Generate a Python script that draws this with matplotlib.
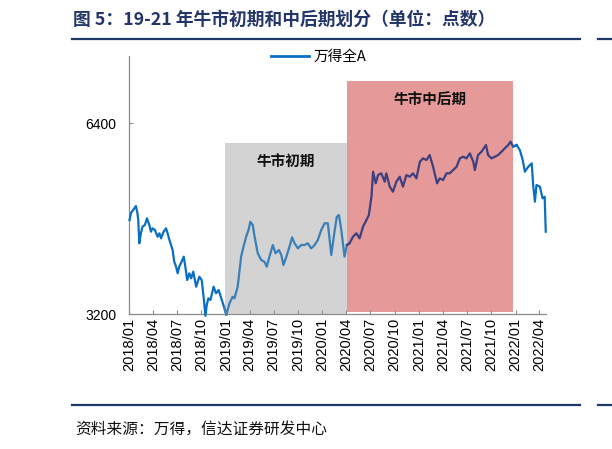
import matplotlib
matplotlib.use("Agg")
import matplotlib.pyplot as plt
import matplotlib.dates as mdates
import numpy as np
import pandas as pd
from matplotlib.lines import Line2D

plt.rcParams['font.family'] = ['Noto Sans CJK SC', 'DejaVu Sans']

# ---- data ----
dates = [
    "2018-01-02", "2018-01-08", "2018-01-20", "2018-01-26", "2018-02-01", "2018-02-04", "2018-02-08",
    "2018-02-14", "2018-02-20", "2018-03-01", "2018-03-09", "2018-03-18", "2018-03-24", "2018-03-30",
    "2018-04-08", "2018-04-18", "2018-04-25", "2018-05-01", "2018-05-11", "2018-05-20", "2018-05-26",
    "2018-06-02", "2018-06-14", "2018-06-20", "2018-06-27", "2018-07-03", "2018-07-09", "2018-07-18",
    "2018-07-26", "2018-08-01", "2018-08-08", "2018-08-16", "2018-08-23", "2018-08-31", "2018-09-11",
    "2018-09-23", "2018-10-02", "2018-10-09", "2018-10-16", "2018-10-21", "2018-10-27", "2018-11-04",
    "2018-11-16", "2018-11-25", "2018-12-05", "2018-12-17", "2018-12-27", "2019-01-03", "2019-01-15",
    "2019-01-27", "2019-02-03", "2019-02-15", "2019-02-28", "2019-03-09", "2019-03-19", "2019-03-28",
    "2019-04-04", "2019-04-13", "2019-04-20", "2019-05-02", "2019-05-15", "2019-05-27", "2019-06-05",
    "2019-06-15", "2019-06-28", "2019-07-08", "2019-07-21", "2019-07-30", "2019-08-07", "2019-08-18",
    "2019-08-30", "2019-09-09", "2019-09-18", "2019-10-01", "2019-10-13", "2019-10-26", "2019-11-07",
    "2019-11-20", "2019-12-03", "2019-12-15", "2019-12-28", "2020-01-10", "2020-01-22", "2020-02-04",
    "2020-02-17", "2020-02-25", "2020-03-04", "2020-03-13", "2020-03-25", "2020-04-03", "2020-04-13",
    "2020-04-26", "2020-05-09", "2020-05-21", "2020-06-03", "2020-06-16", "2020-06-25", "2020-07-05",
    "2020-07-11", "2020-07-21", "2020-07-30", "2020-08-11", "2020-08-24", "2020-08-30", "2020-09-12",
    "2020-09-24", "2020-10-07", "2020-10-20", "2020-11-01", "2020-11-14", "2020-11-27", "2020-12-09",
    "2020-12-22", "2021-01-04", "2021-01-16", "2021-01-29", "2021-02-10", "2021-02-23", "2021-03-10",
    "2021-03-20", "2021-04-02", "2021-04-15", "2021-04-27", "2021-05-10", "2021-05-23", "2021-06-04",
    "2021-06-17", "2021-06-29", "2021-07-12", "2021-07-25", "2021-07-31", "2021-08-12", "2021-08-25",
    "2021-09-11", "2021-09-19", "2021-10-02", "2021-10-15", "2021-10-27", "2021-11-09", "2021-11-21",
    "2021-12-04", "2021-12-13", "2021-12-23", "2022-01-05", "2022-01-17", "2022-01-28", "2022-02-05",
    "2022-02-18", "2022-03-03", "2022-03-09", "2022-03-15", "2022-03-21", "2022-04-03", "2022-04-13",
    "2022-04-21", "2022-04-25",
]
wind_all_a = [
    4777, 4900, 4973, 5012, 4890, 4777, 4386,
    4554, 4665, 4693, 4806, 4693, 4581, 4638,
    4610, 4497, 4554, 4470, 4581, 4638, 4554,
    4442, 4274, 4078, 3994, 3883, 3994, 4078,
    4162, 3994, 3770, 3883, 3799, 3910, 3658,
    3826, 3770, 3490, 3170, 3351, 3463, 3435,
    3658, 3547, 3603, 3435, 3296, 3190, 3380,
    3490, 3463, 3658, 4162, 4330, 4497, 4610,
    4749, 4693, 4497, 4219, 4106, 4078, 3994,
    4162, 4358, 4219, 4274, 4190, 4022, 4162,
    4330, 4487, 4386, 4302, 4358, 4358, 4386,
    4302, 4358, 4442, 4610, 4722, 4722, 4190,
    4610, 4833, 4861, 4610, 4162, 4358, 4386,
    4497, 4554, 4470, 4665, 4777, 4861, 5168,
    5588, 5393, 5532, 5561, 5420, 5561, 5337,
    5252, 5420, 5504, 5337, 5532, 5504, 5561,
    5477, 5756, 5812, 5784, 5868, 5672, 5393,
    5477, 5449, 5561, 5561, 5616, 5672, 5812,
    5840, 5812, 5896, 5756, 5616, 5868, 5924,
    6036, 5868, 5812, 5840, 5868, 5924, 5980,
    6036, 6092, 6008, 6036, 5952, 5784, 5588,
    5672, 5728, 5337, 5085, 5365, 5337, 5141,
    5168, 4581,
]
series_name = "万得全A"
phase_labels = ["牛市初期", "牛市中后期"]
phase_start = ["2018-12-28", "2020-04-04"]
phase_end = ["2020-04-04", "2021-12-23"]
phase_top = [6075, 7110]
phase_bottom = [3200, 3230]
y_ticks = [3200, 6400]
title = "图 5：19-21 年牛市初期和中后期划分（单位：点数）"
source = "资料来源：万得，信达证券研发中心"

# ---- figure ----
fig = plt.figure(figsize=(6.12, 4.49), dpi=100)
W, H = 612, 449
ax = fig.add_axes([129 / W, 1 - 314 / H, (546 - 129) / W, (314 - 56) / H])

t = pd.to_datetime(pd.Series(dates))
v = np.array(wind_all_a, dtype=float)

span_colors = ["#D3D3D3", "#E59999"]
for s, e, top, bot, c in zip(phase_start, phase_end, phase_top, phase_bottom, span_colors):
    s_d, e_d = pd.Timestamp(s), pd.Timestamp(e)
    ax.fill_between([s_d, e_d], [bot, bot], [top, top], color=c, lw=0, zorder=1)

# line segments coloured by phase (overlap by one point so the line is continuous)
ps = [pd.Timestamp(x) for x in phase_start]
pe = [pd.Timestamp(x) for x in phase_end]
idx = np.arange(len(t))
seg_defs = [
    (t < ps[0], "#0A6FC2"),
    ((t >= ps[0]) & (t < pe[0]), "#3A7FB8"),
    ((t >= ps[1]) & (t <= pe[1]), "#3E3F7E"),
    (t > pe[1], "#0A6FC2"),
]
n = len(t)
for mask, col in seg_defs:
    ii = idx[mask.values]
    if len(ii) == 0:
        continue
    lo = max(ii[0] - 1, 0)
    hi = min(ii[-1] + 2, n)
    ax.plot(t.iloc[lo:hi], v[lo:hi], color=col, lw=1.6, zorder=3,
            clip_on=False, solid_joinstyle='round')

for lab, s, e, top in zip(phase_labels, phase_start, phase_end, phase_top):
    mid = pd.Timestamp(s) + (pd.Timestamp(e) - pd.Timestamp(s)) / 2
    ax.text(mid, top - 325, lab, ha='center', va='center', fontsize=10.5,
            fontweight='bold', color='#111111', zorder=4)

ax.set_ylim(3200, 7530)
ax.set_xlim(pd.Timestamp("2017-12-31"), pd.Timestamp("2022-04-26"))
ax.set_yticks(y_ticks)
ax.xaxis.set_major_locator(mdates.MonthLocator(bymonth=[1, 4, 7, 10]))
ax.xaxis.set_major_formatter(mdates.DateFormatter("%Y/%m"))
for lbl in ax.get_xticklabels():
    lbl.set_rotation(90)
ax.tick_params(axis='x', direction='in', length=3, color='#8c8c8c', pad=3,
               labelsize=10.5, labelfontfamily='Liberation Sans')
ax.tick_params(axis='y', direction='in', length=3, color='#8c8c8c', pad=9,
               labelsize=10, labelfontfamily='Liberation Sans')
for side in ['top', 'right']:
    ax.spines[side].set_visible(False)
for side in ['left', 'bottom']:
    ax.spines[side].set_color('#8c8c8c')
    ax.spines[side].set_linewidth(0.9)

# legend
handle = Line2D([0], [0], color="#0A6FC2", lw=2)
fig.legend([handle], [series_name], loc='center left',
           bbox_to_anchor=(271 / W, 1 - 57 / H), frameon=False,
           fontsize=10.5, handlelength=2.6, handletextpad=0.35, borderaxespad=0,
           borderpad=0)

# title, rules, source
navy = "#1F3864"
fig.text(73 / W, 1 - 20 / H, title, ha='left', va='center', fontsize=12.8,
         fontweight='bold', color="#24356A")
fig.add_artist(Line2D([72 / W, 580 / W], [1 - 38.5 / H, 1 - 38.5 / H], color=navy, lw=1.6))
fig.add_artist(Line2D([598 / W, 1.0], [1 - 38.5 / H, 1 - 38.5 / H], color=navy, lw=1.6))
fig.add_artist(Line2D([72 / W, 580 / W], [1 - 405 / H, 1 - 405 / H], color=navy, lw=1.6))
fig.add_artist(Line2D([598 / W, 1.0], [1 - 405 / H, 1 - 405 / H], color=navy, lw=1.6))
fig.text(75 / W, 1 - 429 / H, source, ha='left', va='center', fontsize=11.3,
         color='#111111', style='italic')

fig.savefig("out.png", dpi=100)
